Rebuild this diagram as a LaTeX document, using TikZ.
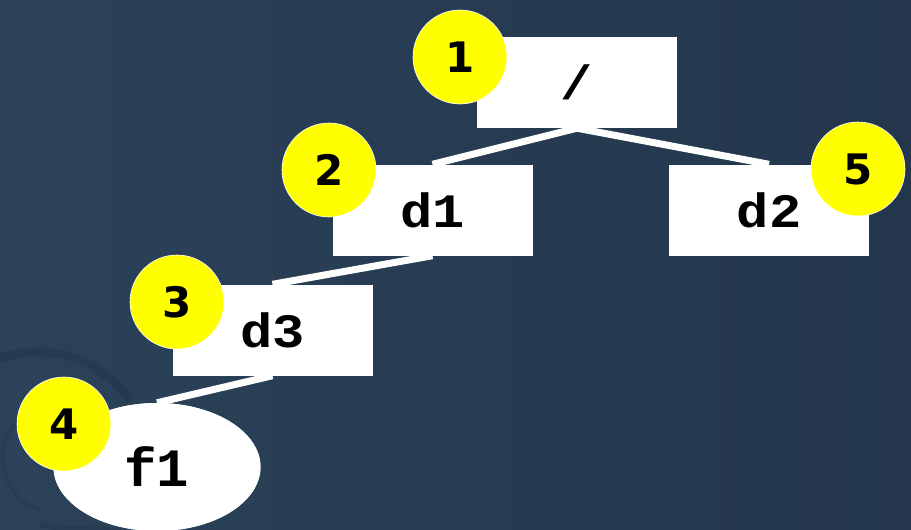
\documentclass[tikz,border=0pt]{standalone}
\usepackage{fontspec}
\usetikzlibrary{shapes.geometric}
\newfontfamily\monob{Liberation Mono}[BoldFont={Liberation Mono Bold}]
\newfontfamily\numfont{DejaVu Sans}[BoldFont={DejaVu Sans Bold}]
\definecolor{bgA}{HTML}{2B4259}
\definecolor{bgB}{HTML}{23364C}
\definecolor{bgarc}{HTML}{22364B}
\definecolor{ylw}{HTML}{FFFF00}
\tikzset{
  treebox/.style={fill=white, minimum width=200pt, minimum height=91pt, inner sep=0pt, font=\monob\bfseries\fontsize{48}{48}\selectfont},
  leafbox/.style={ellipse, fill=white, minimum width=207pt, minimum height=128pt, inner sep=0pt, font=\monob\bfseries\fontsize{54}{54}\selectfont},
  badge/.style={circle, fill=ylw, draw=white, line width=0.6pt, minimum size=94pt, inner sep=0pt, font=\numfont\bfseries\fontsize{42}{42}\selectfont},
  edge/.style={draw=white, line width=7pt}
}
\begin{document}
\begin{tikzpicture}[x=1pt,y=-1pt]
\useasboundingbox (0,0) rectangle (911,530);
\shade[left color=bgA, right color=bgB] (0,0) rectangle (911,530);
\draw[bgarc, line width=9pt, opacity=0.5] (-20,370) .. controls (20,340) and (90,345) .. (130,400);
\draw[bgarc, line width=4pt, opacity=0.4] (20,420) .. controls (-10,440) and (0,500) .. (40,510);
\draw[bgarc, line width=5pt, opacity=0.4] (40,525) .. controls (60,530) and (90,528) .. (110,530);
% nodes (first pass, for anchors)
\node[treebox] (root) at (577,82.5) {\scalebox{1.12}[1]{/}};
\node[treebox] (d1) at (432.5,210) {\scalebox{1.12}[1]{d1}};
\node[treebox] (d2) at (769,210) {\scalebox{1.12}[1]{d2}};
\node[treebox] (d3) at (272.5,330) {\scalebox{1.12}[1]{d3}};
\node[leafbox] (f1) at (157,467) {f1};
% edges
\draw[edge] (root.south) -- (d1.north);
\draw[edge] (root.south) -- (d2.north);
\draw[edge] (d1.south) -- (d3.north);
\draw[edge] (d3.south) -- (f1.north);
% boxes over edges
\node[treebox] at (root) {\scalebox{1.12}[1]{/}};
\node[treebox] at (d1) {\scalebox{1.12}[1]{d1}};
\node[treebox] at (d2) {\scalebox{1.12}[1]{d2}};
\node[treebox] at (d3) {\scalebox{1.12}[1]{d3}};
\node[leafbox] at (f1) {f1};
% badges
\node[badge] (b1) at (460,57) {1};
\node[badge] (b2) at (329,170) {2};
\node[badge] (b3) at (177,302) {3};
\node[badge] (b4) at (64,424) {4};
\node[badge] (b5) at (858,169) {5};
\end{tikzpicture}
\end{document}
